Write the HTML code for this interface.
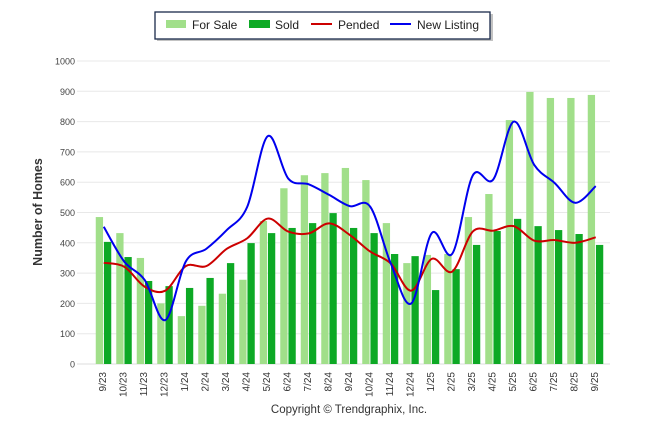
<!DOCTYPE html>
<html><head><meta charset="utf-8"><style>
body{margin:0;background:#fff;font-family:"Liberation Sans",sans-serif;}
svg{display:block}
</style></head><body>
<svg id="chart" width="646" height="434" xmlns="http://www.w3.org/2000/svg">
<g id="grid"></g>
<g id="bars"></g>
<g id="lines"></g>
<g id="xlabels"></g>
<text x="42" y="212" transform="rotate(-90 42 212)" text-anchor="middle" font-size="12.5" font-weight="bold" fill="#333">Number of Homes</text>
<g>
<rect x="157" y="14" width="336" height="27" fill="#888" opacity="0.5"/>
<rect x="155" y="12" width="335" height="27" fill="#fff" stroke="#1a2a4a" stroke-width="1.3"/>
<rect x="166" y="20" width="20" height="8" fill="#a1df8a"/>
<text x="192" y="29" font-size="12" fill="#222">For Sale</text>
<rect x="249" y="20" width="21" height="8" fill="#0da925"/>
<text x="275" y="29" font-size="12" fill="#222">Sold</text>
<line x1="311" y1="24" x2="332" y2="24" stroke="#cc0000" stroke-width="2"/>
<text x="338" y="29" font-size="12" fill="#222">Pended</text>
<line x1="390" y1="24" x2="411" y2="24" stroke="#0000ee" stroke-width="2"/>
<text x="417" y="29" font-size="12" fill="#222">New Listing</text>
</g>
<text x="349" y="413" text-anchor="middle" font-size="11.5" fill="#333">Copyright © Trendgraphix, Inc.</text>
</svg>
<script>
const categories=["9/23","10/23","11/23","12/23","1/24","2/24","3/24","4/24","5/24","6/24","7/24","8/24","9/24","10/24","11/24","12/24","1/25","2/25","3/25","4/25","5/25","6/25","7/25","8/25","9/25"];
const forSale=[485,432,350,200,158,192,232,278,472,580,623,630,647,607,465,333,360,363,485,561,805,898,878,878,888];
const sold=[403,353,274,257,251,284,333,399,432,449,465,498,449,432,363,356,244,313,393,439,479,455,442,429,393];
const pended=[334,321,255,242,323,323,380,415,480,437,431,464,426,371,332,242,347,305,437,440,455,407,409,400,418];
const newListing=[453,338,277,145,338,380,442,519,752,612,593,558,521,519,332,200,432,364,622,609,800,657,597,532,587];
const yTicks=[0,100,200,300,400,500,600,700,800,900,1000];
const NS="http://www.w3.org/2000/svg";
const left=93.5,band=20.5,y0=364,yScale=0.303;
const xc=i=>left+band*(i+0.5);
const y=v=>y0-v*yScale;
function mk(tag,attrs,parent){const e=document.createElementNS(NS,tag);for(const k in attrs)e.setAttribute(k,attrs[k]);parent.appendChild(e);return e;}
const grid=document.getElementById('grid');
yTicks.forEach(t=>{
  const l=mk('line',{x1:77,x2:610,y1:y(t),y2:y(t),stroke:t===0?'#ddd':'#e8e8e8','stroke-width':1},grid);
  
  
  const tx=mk('text',{x:75,y:y(t)+3.5,'text-anchor':'end','font-size':9,fill:'#444'},grid);
  tx.textContent=t;
  
  
});
const bars=document.getElementById('bars');
categories.forEach((c,i)=>{
  const a=mk('rect',{x:xc(i)-8,y:y(forSale[i]),width:7.3,height:forSale[i]*yScale,fill:'#a1df8a'},bars);
  
  
  const b=mk('rect',{x:xc(i)+0.2,y:y(sold[i]),width:7.3,height:sold[i]*yScale,fill:'#0da925'},bars);
  
  
  const t=mk('text',{x:0,y:0,'text-anchor':'end','font-size':10,fill:'#333',transform:`translate(${xc(i)+2},372) rotate(-90)`},document.getElementById('xlabels'));
  t.textContent=c;
  
  
});
function spline(vals){
  const p=vals.map((v,i)=>[xc(i),y(v)]);
  let d=`M${p[0][0]},${p[0][1]}`;
  for(let i=0;i<p.length-1;i++){
    const p0=p[Math.max(0,i-1)],p1=p[i],p2=p[i+1],p3=p[Math.min(p.length-1,i+2)];
    const c1=[p1[0]+(p2[0]-p0[0])/6,p1[1]+(p2[1]-p0[1])/6];
    const c2=[p2[0]-(p3[0]-p1[0])/6,p2[1]-(p3[1]-p1[1])/6];
    d+=`C${c1[0]},${c1[1]} ${c2[0]},${c2[1]} ${p2[0]},${p2[1]}`;
  }
  return d;
}
const lines=document.getElementById('lines');
const pl=mk('path',{d:spline(pended),fill:'none',stroke:'#cc0000','stroke-width':2},lines);


const nl=mk('path',{d:spline(newListing),fill:'none',stroke:'#0000ee','stroke-width':2},lines);


</script>
</body></html>
